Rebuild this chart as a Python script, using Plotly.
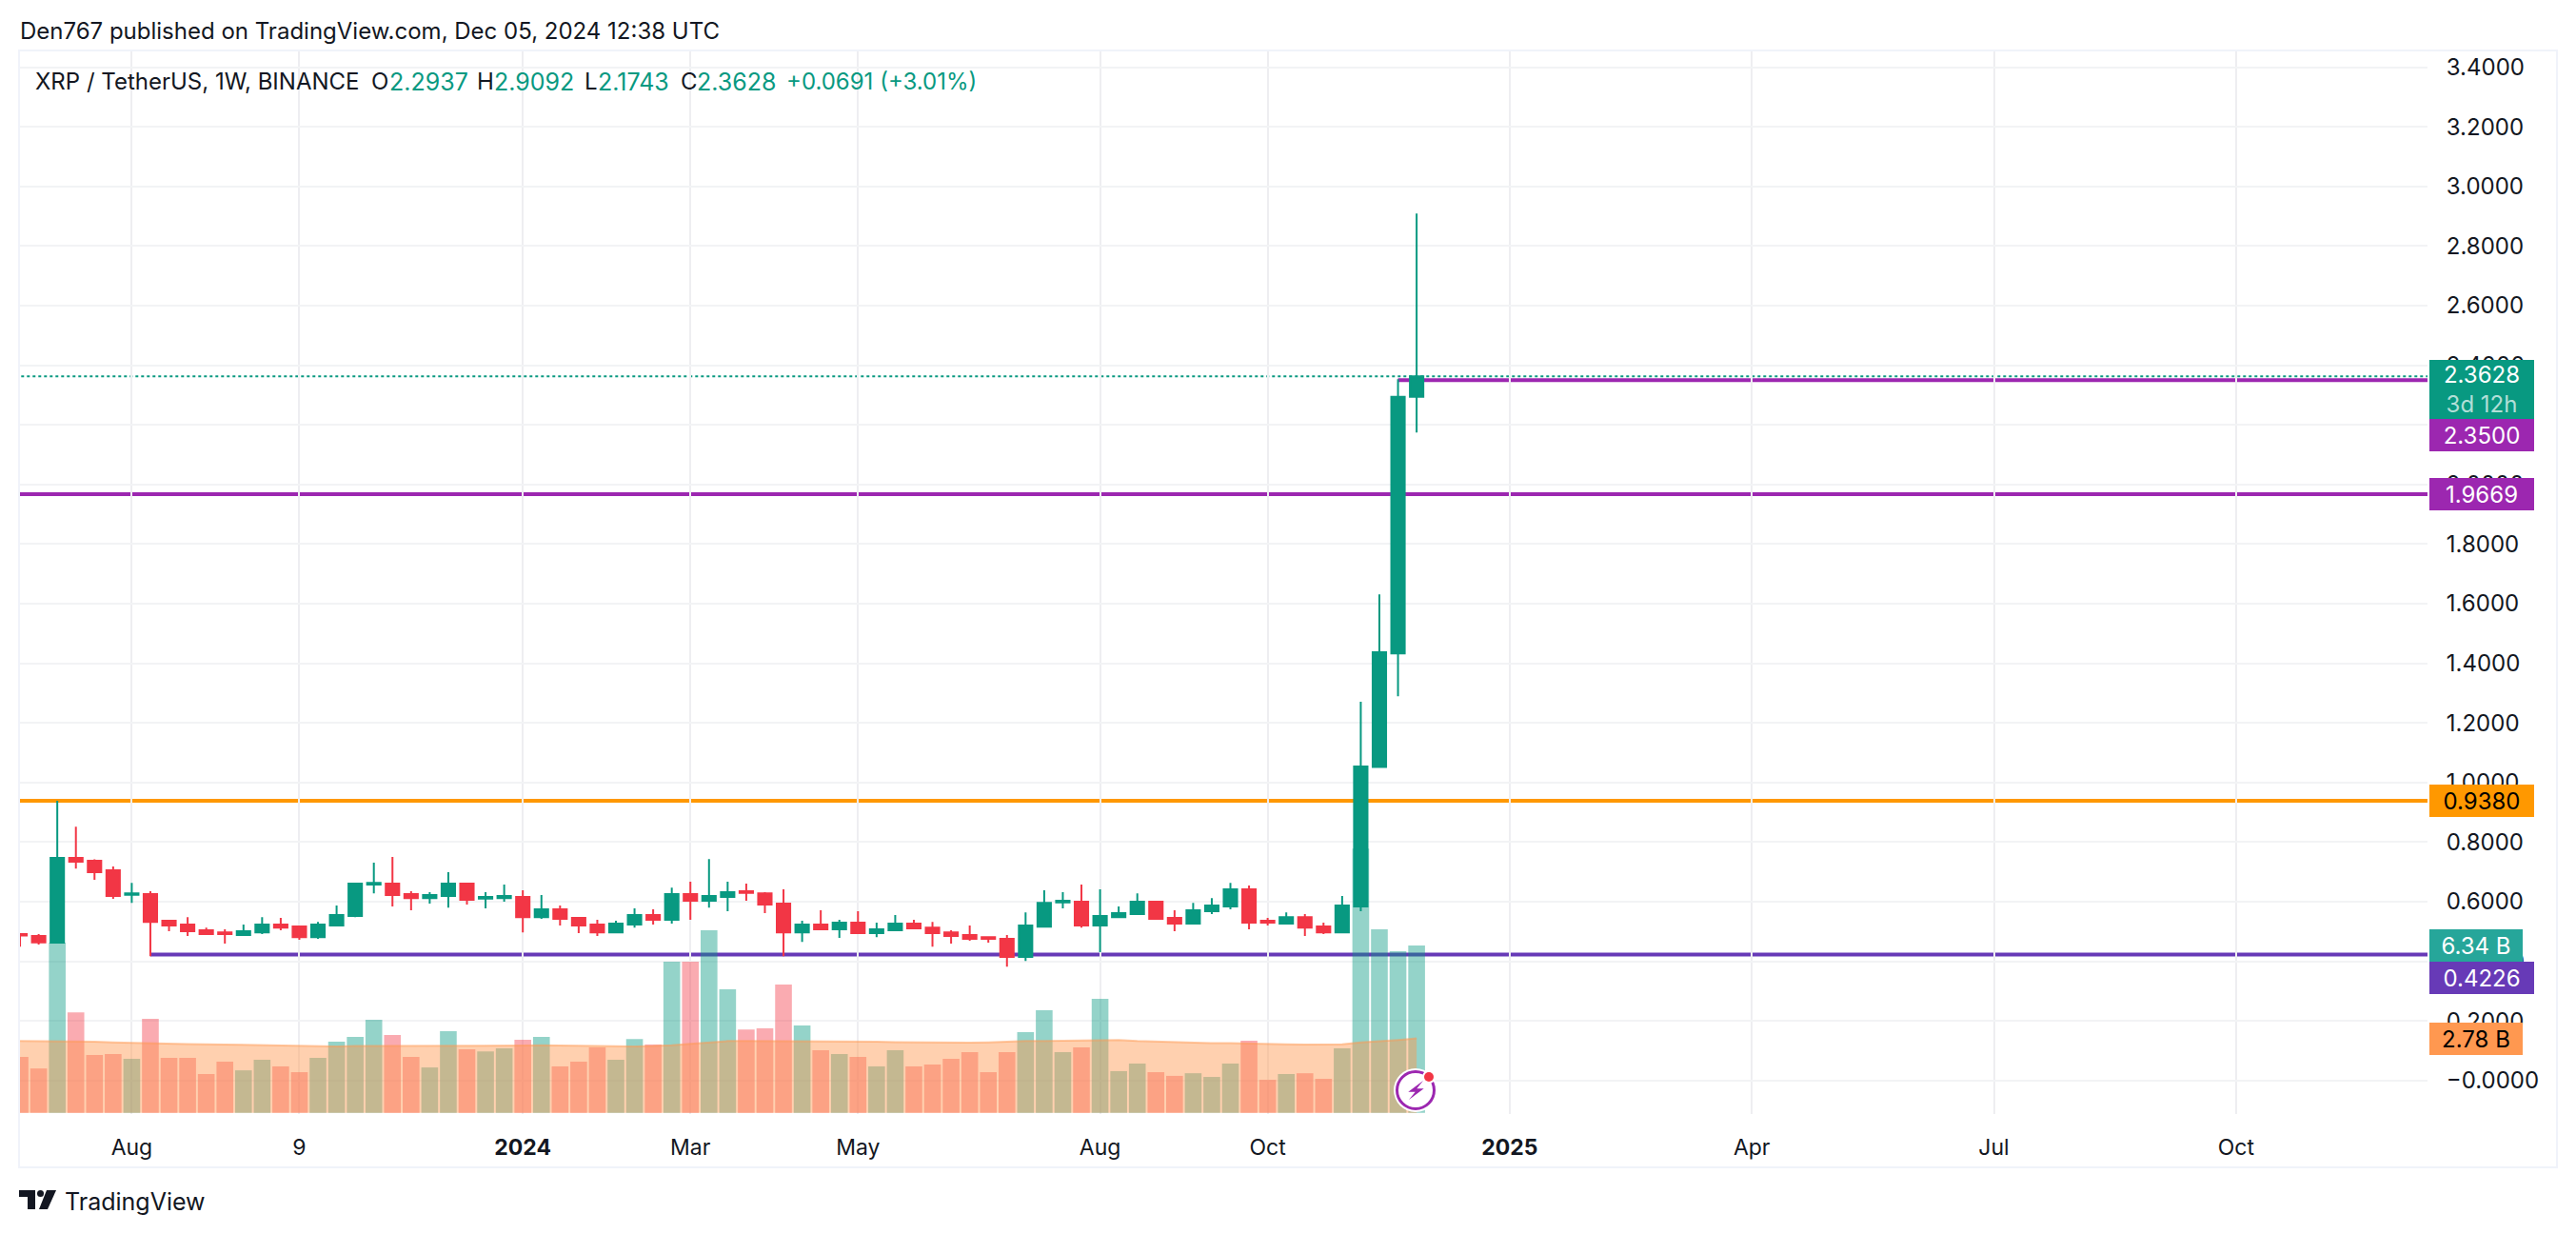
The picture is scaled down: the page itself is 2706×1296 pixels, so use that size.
import plotly.graph_objects as go
import pandas as pd

FIG_W = 2706
FIG_H = 1296

# Weekly candles
week_dates = pd.date_range("2023-06-26", periods=76, freq="7D")
opens = [.491, .485, .462, .7465, .737, .705, .623, .625, .536, .523, .504, .497, .488, .497, .523, .517, .481, .520, .552, .657,
         .660, .625, .612, .619, .660, .610, .612, .616, .548, .574, .545, .523, .497, .523, .555, .539, .625, .603, .616, .635,
         .628, .593, .497, .523, .507, .529, .494, .504, .526, .513, .497, .488, .481, .475, .414, .516, .597, .600, .520, .548,
         .558, .600, .545, .526, .568, .584, .641, .536, .526, .548, .517, .497, .584, 1.052, 1.433, 2.2937]
highs = [.494, .491, .938, .851, .742, .718, .663, .635, .539, .548, .513, .507, .523, .548, .545, .520, .532, .587, .660, .731,
         .750, .635, .632, .699, .660, .632, .657, .638, .622, .587, .548, .539, .536, .577, .574, .647, .667, .743, .667, .660,
         .632, .641, .536, .571, .539, .568, .529, .555, .539, .532, .504, .520, .481, .488, .564, .638, .632, .657, .641, .584,
         .628, .600, .571, .596, .612, .663, .654, .545, .564, .558, .529, .619, 1.271, 1.631, 2.353, 2.9092]
lows = [.449, .456, .462, .711, .673, .609, .596, .417, .501, .485, .491, .459, .485, .491, .504, .472, .475, .520, .548, .628,
        .584, .571, .593, .580, .590, .577, .600, .497, .542, .520, .494, .485, .494, .513, .523, .526, .539, .580, .568, .603,
        .561, .417, .465, .507, .478, .494, .481, .501, .507, .449, .459, .469, .462, .382, .401, .516, .577, .513, .430, .548,
        .558, .542, .501, .523, .558, .574, .507, .520, .526, .485, .491, .494, .568, 1.052, 1.289, 2.1743]
closes = [.486, .463, .7465, .734, .699, .619, .628, .532, .520, .501, .491, .491, .501, .523, .513, .481, .523, .555, .660, .663,
          .622, .612, .622, .660, .606, .616, .619, .548, .574, .542, .520, .497, .526, .555, .539, .625, .603, .619, .632, .629,
          .590, .497, .523, .507, .529, .494, .507, .526, .510, .494, .485, .475, .475, .414, .520, .596, .603, .520, .552, .561,
          .600, .542, .526, .571, .587, .641, .529, .529, .548, .513, .497, .587, 1.053, 1.437, 2.2937, 2.3628]

# Volume, in billions
volumes = [2.12, 1.68, 6.45, 3.81, 2.19, 2.23, 2.05, 3.56, 2.08, 2.08, 1.47, 1.94, 1.61, 2.01, 1.76, 1.54, 2.08, 2.70, 2.88, 3.53,
           2.95, 2.12, 1.72, 3.09, 2.41, 2.33, 2.44, 2.77, 2.88, 1.76, 1.94, 2.48, 2.01, 2.80, 2.59, 5.73, 5.73, 6.92, 4.68, 3.16,
           3.20, 4.86, 3.31, 2.37, 2.23, 2.12, 1.76, 2.37, 1.76, 1.83, 2.05, 2.30, 1.54, 2.30, 3.06, 3.89, 2.30, 2.48, 4.32, 1.58,
           1.87, 1.54, 1.40, 1.50, 1.36, 1.87, 2.73, 1.25, 1.47, 1.50, 1.29, 2.44, 10.02, 6.96, 6.13, 6.34]
volume_ma = [2.72, 2.72, 2.72, 2.71, 2.70, 2.67, 2.65, 2.64, 2.62, 2.61, 2.60, 2.59, 2.58, 2.55, 2.54, 2.53, 2.52, 2.52, 2.53, 2.53,
             2.53, 2.53, 2.53, 2.54, 2.54, 2.54, 2.55, 2.55, 2.56, 2.55, 2.54, 2.53, 2.52, 2.52, 2.53, 2.56, 2.62, 2.67, 2.72, 2.72,
             2.72, 2.72, 2.72, 2.71, 2.71, 2.71, 2.70, 2.68, 2.67, 2.66, 2.66, 2.66, 2.67, 2.70, 2.72, 2.72, 2.73, 2.74, 2.76, 2.76,
             2.72, 2.70, 2.66, 2.65, 2.64, 2.64, 2.62, 2.61, 2.60, 2.59, 2.59, 2.60, 2.67, 2.71, 2.76, 2.82]

# Axis ticks
price_ticks = [3.4, 3.2, 3.0, 2.8, 2.6, 2.4, 2.2, 2.0, 1.8, 1.6, 1.4, 1.2, 1.0, 0.8, 0.6, 0.4, 0.2, 0.0]
price_tick_labels = ["3.4000", "3.2000", "3.0000", "2.8000", "2.6000", "2.4000", "2.2000", "2.0000", "1.8000", "1.6000",
                     "1.4000", "1.2000", "1.0000", "0.8000", "0.6000", "0.4000", "0.2000", "−0.0000"]
time_ticks = ["2023-08-07", "2023-10-09", "2024-01-01", "2024-03-04", "2024-05-06", "2024-08-05", "2024-10-07",
              "2025-01-06", "2025-04-07", "2025-07-07", "2025-10-06"]
time_tick_labels = ["Aug", "9", "<b>2024</b>", "Mar", "May", "Aug", "Oct", "<b>2025</b>", "Apr", "Jul", "Oct"]

# Drawn levels: value, first date, colour, width, dash
levels = [
    (2.3628, "2023-06-20", "#089981", 2, "dot"),
    (2.3500, "2024-11-25", "#9C27B0", 4, "solid"),
    (1.9669, "2023-06-20", "#9C27B0", 4, "solid"),
    (0.9380, "2023-06-20", "#FF9800", 4, "solid"),
    (0.4226, "2023-08-14", "#673AB7", 4, "solid"),
]

# Boxes on the price scale: text, centre y in pixels, height, width, background, text colour
scale_labels = [
    ("2.3628<br><span style='color:rgba(255,255,255,0.7)'>3d 12h</span>", 409, 62, 110, "#089981", "#FFFFFF"),
    ("2.3500", 457, 34, 110, "#9C27B0", "#FFFFFF"),
    ("1.9669", 519, 34, 110, "#9C27B0", "#FFFFFF"),
    ("0.9380", 841, 34, 110, "#FF9800", "#000000"),
    ("6.34 B", 993, 34, 98, "#26A69A", "#FFFFFF"),
    ("0.4226", 1027, 34, 110, "#673AB7", "#FFFFFF"),
    ("2.78 B", 1091, 34, 98, "#FF9850", "#000000"),
]

# Header texts: text, left x in pixels, centre y in pixels, colour, font size
header_texts = [
    ("Den767 published on TradingView.com, Dec 05, 2024 12:38 UTC", 20, 32, "#131722", 24),
    ("XRP / TetherUS, 1W, BINANCE", 36, 86, "#131722", 24),
    ("O", 389, 86, "#131722", 24),
    ("2.2937", 408, 86, "#089981", 25),
    ("H", 500, 86, "#131722", 24),
    ("2.9092", 518, 86, "#089981", 25),
    ("L", 613, 86, "#131722", 24),
    ("2.1743", 627, 86, "#089981", 25),
    ("C", 714, 86, "#131722", 24),
    ("2.3628", 731, 86, "#089981", 25),
    ("+0.0691 (+3.01%)", 825, 86, "#089981", 24),
    ("TradingView", 67, 1262, "#131722", 25),
]


def paper_x(x):
    return x / FIG_W


def paper_y(y):
    return 1 - y / FIG_H


def circle_shape(cx, cy, r, fill, line_color=None, line_width=0):
    return dict(type="circle", xref="paper", yref="paper", layer="above",
                x0=paper_x(cx - r), x1=paper_x(cx + r), y0=paper_y(cy + r), y1=paper_y(cy - r),
                fillcolor=fill, line=dict(color=line_color, width=line_width))


def polygon_shape(points, fill):
    path = "M " + " L ".join(f"{paper_x(x)},{paper_y(y)}" for x, y in points) + " Z"
    return dict(type="path", xref="paper", yref="paper", layer="above", path=path, fillcolor=fill, line=dict(width=0))


def create_chart():
    """
    Build the candle chart with the volume pane behind it.

    Returns:
        Plotly figure object
    """
    fig = go.Figure()

    # Volume bars and their average go on the lower axes
    bar_colors = ["rgba(8,153,129,0.43)" if c >= o else "rgba(242,54,69,0.42)" for o, c in zip(opens, closes)]
    fig.add_trace(go.Bar(x=week_dates, y=volumes, marker=dict(color=bar_colors, line=dict(width=0)), yaxis="y"))
    fig.add_trace(go.Scatter(x=week_dates, y=volume_ma, mode="lines", fill="tozeroy", yaxis="y",
                             fillcolor="rgba(255,152,80,0.456)", line=dict(color="rgba(255,152,80,0.5)", width=2)))

    # Candles on the overlaid price axis
    fig.add_trace(go.Candlestick(x=week_dates, open=opens, high=highs, low=lows, close=closes, yaxis="y2", whiskerwidth=0,
                                 increasing=dict(fillcolor="#089981", line=dict(color="#089981", width=2)),
                                 decreasing=dict(fillcolor="#F23645", line=dict(color="#F23645", width=2))))

    shapes = []

    # Level lines sit under the candles
    for value, start, color, width, dash in levels:
        shapes.append(dict(type="line", xref="x", yref="y2", layer="below", x0=start, x1="2025-12-31", y0=value, y1=value,
                           line=dict(color=color, width=width, dash=dash)))

    # Outer frame
    shapes.append(dict(type="rect", xref="paper", yref="paper", layer="above", x0=paper_x(20), x1=paper_x(2686),
                       y0=paper_y(1226), y1=paper_y(53), line=dict(color="#F0F3FA", width=2)))

    # Lightning badge
    shapes.append(circle_shape(1487, 1145, 23, "#FFFFFF"))
    shapes.append(circle_shape(1487, 1145, 19.5, "#FFFFFF", "#9C27B0", 3))
    shapes.append(polygon_shape([(1495, 1135), (1479.3, 1146.7), (1486.7, 1146.7), (1480, 1155), (1495.7, 1143.3), (1488.3, 1143.3)], "#9C27B0"))
    shapes.append(circle_shape(1501, 1131, 7, "#FFFFFF"))
    shapes.append(circle_shape(1501, 1131, 5, "#F23645"))

    # Logo
    shapes.append(polygon_shape([(20, 1250), (37, 1250), (37, 1270), (29, 1270), (29, 1257), (20, 1257)], "#131722"))
    shapes.append(circle_shape(42.5, 1253.5, 3.5, "#131722"))
    shapes.append(polygon_shape([(49, 1250), (59, 1250), (50, 1270), (41, 1270)], "#131722"))

    annotations = []
    for text, y, height, width, background, color in scale_labels:
        annotations.append(dict(text=text, xref="paper", yref="paper", x=paper_x(2552), y=paper_y(y), xanchor="left",
                                yanchor="middle", width=width, height=height, bgcolor=background, borderpad=0, borderwidth=0,
                                showarrow=False, font=dict(size=24, color=color, family="Inter")))
    for text, x, y, color, size in header_texts:
        annotations.append(dict(text=text, xref="paper", yref="paper", x=paper_x(x), y=paper_y(y), xanchor="left",
                                yanchor="middle", showarrow=False, borderpad=0, font=dict(size=size, color=color, family="Inter")))

    fig.update_layout(
        width=FIG_W, height=FIG_H, margin=dict(l=0, r=0, t=0, b=0, autoexpand=False),
        paper_bgcolor="#FFFFFF", plot_bgcolor="#FFFFFF", showlegend=False, barmode="overlay", bargap=0.1,
        boxgap=0.28, boxgroupgap=0,
        font=dict(family="Inter", size=23, color="#131722"),
        shapes=shapes, annotations=annotations,
        xaxis=dict(domain=[paper_x(20), paper_x(2550)], type="date", range=["2023-06-25 15:00", "2025-12-17"],
                   tickmode="array", tickvals=time_ticks, ticktext=time_tick_labels, ticks="outside", ticklen=14,
                   tickcolor="rgba(0,0,0,0)", showgrid=True, gridcolor="#EEEEF1", gridwidth=2, zeroline=False,
                   showline=False, rangeslider=dict(visible=False)),
        yaxis=dict(domain=[paper_y(1170), paper_y(53)], range=[-0.047, 40.28], showgrid=False, zeroline=False,
                   showticklabels=False, ticks=""),
        yaxis2=dict(overlaying="y", side="right", anchor="x", range=[-0.1128, 3.456], tickmode="array",
                    tickvals=price_ticks, ticktext=price_tick_labels, ticks="outside", ticklen=14,
                    tickcolor="rgba(0,0,0,0)", showgrid=True, gridcolor="#F2F3F5", gridwidth=2, zeroline=False,
                    showline=False, tickfont=dict(size=24)),
    )
    return fig


fig = create_chart()
# The page keeps the browser's default body margin otherwise
fig.write_html("out.html", config={"displayModeBar": False}, post_script="document.body.style.margin = '0';")
